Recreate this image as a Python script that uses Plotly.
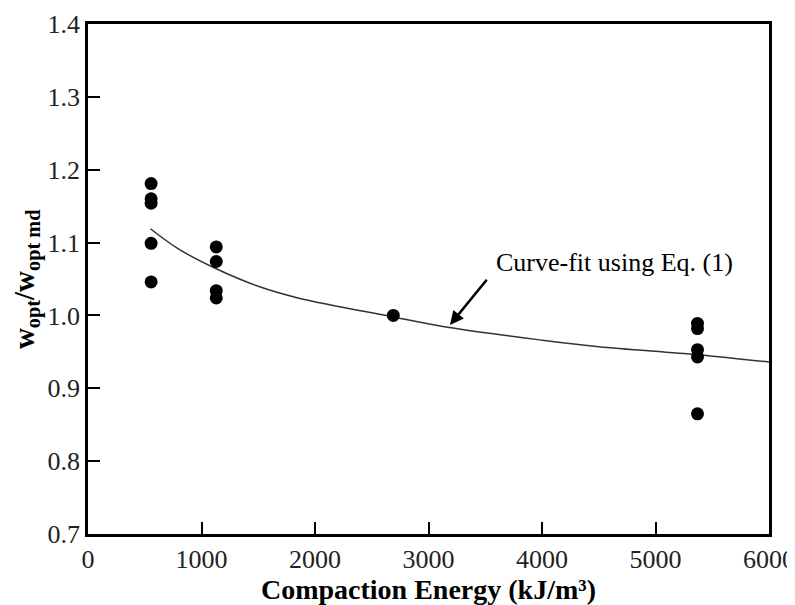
import plotly.graph_objects as go

# Measured data
energy = [556, 556, 556, 556, 556,
          1130, 1130, 1130, 1130,
          2690,
          5370, 5370, 5370, 5370, 5370]
ratio = [1.181, 1.160, 1.154, 1.099, 1.046,
         1.094, 1.074, 1.034, 1.024,
         1.000,
         0.989, 0.982, 0.953, 0.943, 0.865]

# Curve-fit points
fit_x = [550, 800, 1130, 1500, 1850, 2690, 3200, 4000, 4500, 5370, 6000]
fit_y = [1.119, 1.091, 1.064, 1.040, 1.024, 0.998, 0.983, 0.966, 0.957, 0.946, 0.936]

x_ticks = [0, 1000, 2000, 3000, 4000, 5000, 6000]
y_ticks = [0.7, 0.8, 0.9, 1.0, 1.1, 1.2, 1.3, 1.4]

font = "Liberation Serif, Times New Roman, serif"

fig = go.Figure()
fig.add_trace(go.Scatter(x=fit_x, y=fit_y, mode="lines", line_shape="spline",
                         line=dict(color="#333333", width=1.5), showlegend=False))
fig.add_trace(go.Scatter(x=energy, y=ratio, mode="markers",
                         marker=dict(color="black", size=13), showlegend=False))

fig.add_annotation(x=3189, y=0.987, ax=3524, ay=1.051, xref="x", yref="y",
                   axref="x", ayref="y", text="", showarrow=True,
                   arrowhead=2, arrowsize=1.1, arrowwidth=2.5, arrowcolor="black")
fig.add_annotation(x=3577, y=1.072, xref="x", yref="y", text="Curve-fit using Eq. (1)",
                   showarrow=False, xanchor="left", yanchor="middle",
                   font=dict(family=font, size=26, color="black"))
fig.add_annotation(x=-0.121, y=0.5, xref="paper", yref="paper",
                   text="<b>w<sub>opt</sub>/w<sub>opt md</sub></b>", textangle=-90,
                   showarrow=False, font=dict(family=font, size=29, color="black"))

axis_common = dict(showgrid=False, zeroline=False, showline=True, linecolor="black",
                   linewidth=2.5, mirror=True, ticks="inside", ticklen=12, tickwidth=2,
                   tickcolor="black", automargin=False,
                   tickfont=dict(family=font, size=26, color="#222"))

fig.update_xaxes(range=[0, 6000], tickvals=x_ticks, ticktext=[str(v) for v in x_ticks],
                 title=dict(text="<b>Compaction Energy (kJ/m³)</b>",
                            font=dict(family=font, size=28, color="black"), standoff=5),
                 **axis_common)
fig.update_yaxes(range=[0.7, 1.4], tickvals=y_ticks, ticktext=[f"{v:.1f}" for v in y_ticks],
                 **axis_common)

fig.update_layout(width=795, height=605, plot_bgcolor="white", paper_bgcolor="white",
                  margin=dict(l=80, r=34, t=16, b=79))

fig.write_html("out.html")
